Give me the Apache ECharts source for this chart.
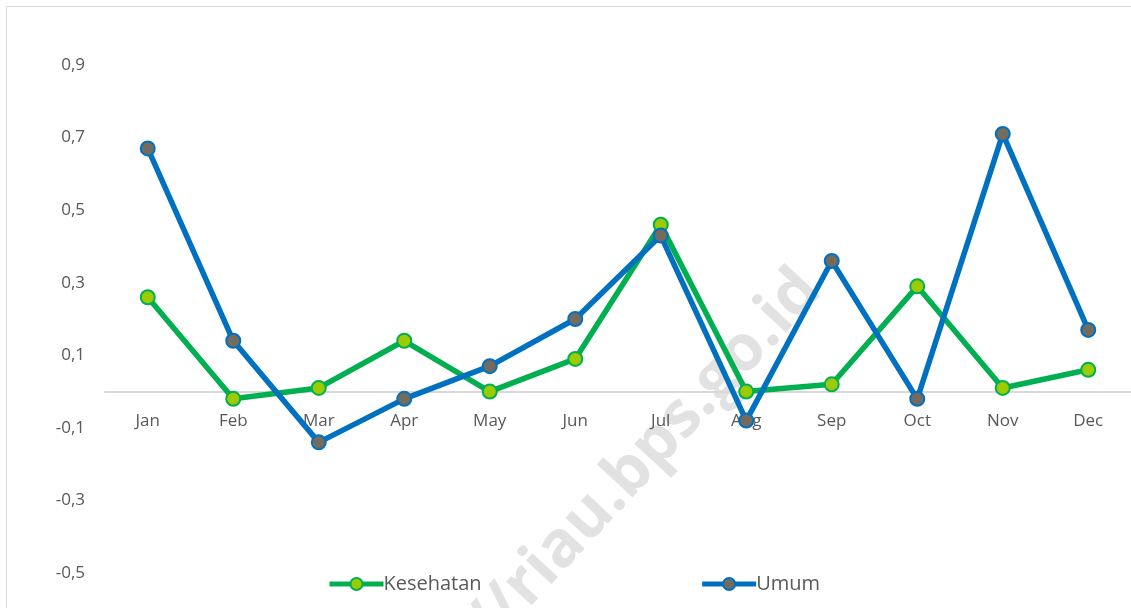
<!DOCTYPE html>
<html>
<head>
<meta charset="utf-8">
<script src="https://cdn.jsdelivr.net/npm/echarts@6/dist/echarts.min.js"></script>
<style>
  html, body { margin: 0; padding: 0; background: #fff; }
  #chart { width: 1131px; height: 608px; }
</style>
</head>
<body>
<div id="chart"></div>
<script>
// data
const months = ['Jan', 'Feb', 'Mar', 'Apr', 'May', 'Jun', 'Jul', 'Aug', 'Sep', 'Oct', 'Nov', 'Dec']
const kesehatan = [0.26, -0.02, 0.01, 0.14, 0.00, 0.09, 0.46, 0.00, 0.02, 0.29, 0.01, 0.06]
const umum = [0.67, 0.14, -0.14, -0.02, 0.07, 0.20, 0.43, -0.08, 0.36, -0.02, 0.71, 0.17]

const chart = echarts.init(document.getElementById('chart'))
const font = '"Open Sans", "Noto Sans", sans-serif'

chart.setOption({
    animation: false,
    backgroundColor: '#fff',
    textStyle: { fontFamily: font },
    graphic: [
        {
            type: 'rect',
            z: -10,
            shape: { x: 6.5, y: 6.5, width: 1200, height: 700 },
            style: { fill: 'none', stroke: '#d9d9d9', lineWidth: 1 }
        },
        {
            // watermark
            type: 'text',
            z: -5,
            x: 810,
            y: 280,
            rotation: 47 * Math.PI / 180,
            style: {
                text: 'http://riau.bps.go.id',
                fill: '#e2e2e2',
                font: 'bold 64px "Open Sans", "Noto Sans", sans-serif',
                textAlign: 'right',
                textVerticalAlign: 'middle'
            }
        }
    ],
    grid: { left: 105, right: -6, top: 65, bottom: 35, containLabel: false },
    legend: {
        left: 327,
        top: 574,
        padding: 0,
        itemWidth: 54,
        itemHeight: 15,
        itemGap: 218,
        textStyle: { fontFamily: font, fontSize: 20, color: '#595959', padding: [0, 0, 0, -5] },
        data: [
            { name: 'Kesehatan', lineStyle: { width: 5 } },
            { name: 'Umum', lineStyle: { width: 5 } }
        ]
    },
    xAxis: {
        type: 'category',
        data: months,
        offset: -181.5,
        axisLine: { onZero: false, lineStyle: { color: '#d9d9d9', width: 2 } },
        axisTick: { show: false },
        axisLabel: { color: '#595959', fontSize: 17, margin: 21, fontFamily: font }
    },
    yAxis: {
        type: 'value',
        min: -0.5,
        max: 0.9,
        interval: 0.1,
        splitLine: { show: false },
        axisLine: { show: false },
        axisTick: { show: false },
        axisLabel: {
            color: '#595959',
            fontSize: 17,
            margin: 20,
            fontFamily: font,
            formatter: function (v) {
                const k = Math.round(v * 10)
                if (Math.abs(k) % 2 === 0) return ''
                return (k / 10).toFixed(1).replace('.', ',')
            }
        }
    },
    series: [
        {
            name: 'Kesehatan',
            type: 'line',
            data: kesehatan,
            symbol: 'circle',
            symbolSize: 14,
            lineStyle: { color: '#00b050', width: 5.5 },
            itemStyle: { color: '#9bcb00', borderColor: '#00b050', borderWidth: 2 }
        },
        {
            name: 'Umum',
            type: 'line',
            data: umum,
            symbol: 'circle',
            symbolSize: 14,
            lineStyle: { color: '#0070c0', width: 5.5 },
            itemStyle: { color: '#736b5e', borderColor: '#0070c0', borderWidth: 2 }
        }
    ]
})
</script>
</body>
</html>
